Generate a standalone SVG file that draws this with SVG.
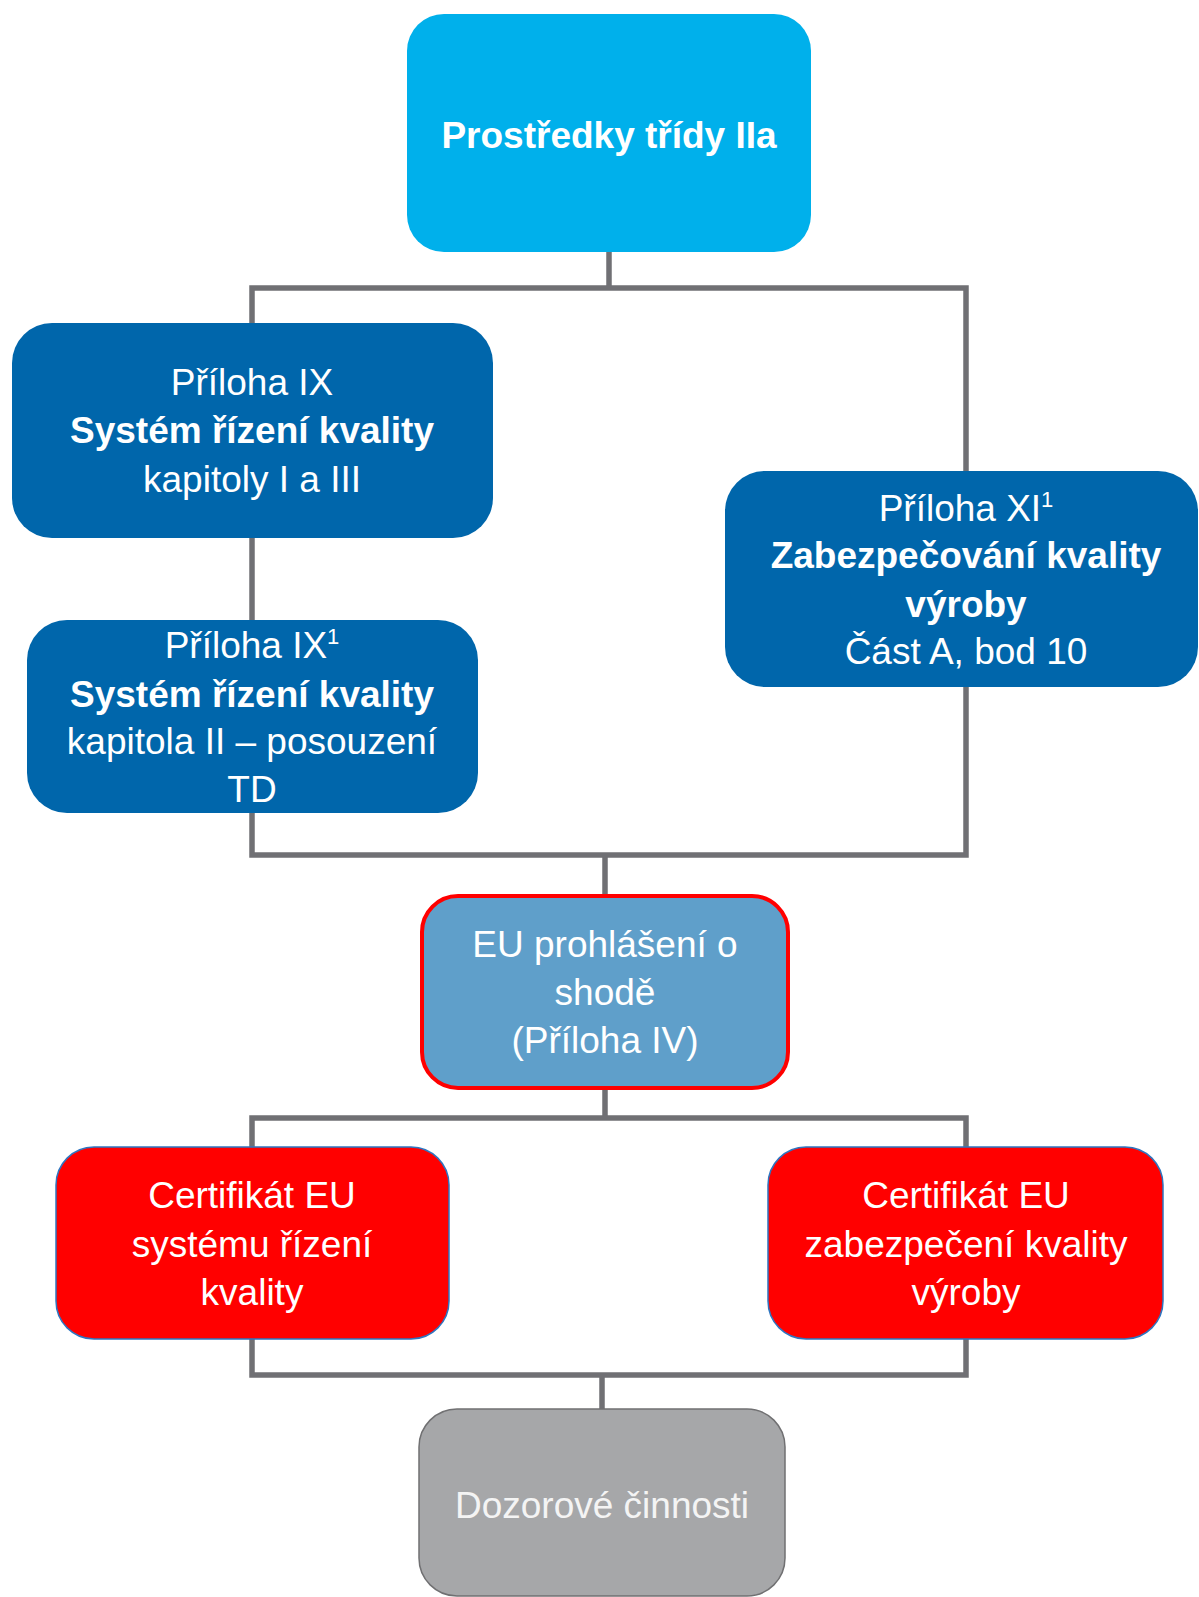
<svg xmlns="http://www.w3.org/2000/svg" width="1199" height="1597" viewBox="0 0 1199 1597">
  <style>
    .t { font-family: "Liberation Sans", Arial, sans-serif; font-size: 37px; fill: #ffffff; text-anchor: middle; }
    .b { font-weight: bold; }
    .sup { font-size: 22px; }
    .blue { fill: #0066AB; }
    .conn { fill: none; stroke: #707074; stroke-width: 5.5; stroke-linejoin: miter; }
  </style>

  <rect width="1199" height="1597" fill="#ffffff"/>

  <g id="connectors">
    <path class="conn" d="M609 252 V288 M252 323 V288 H966 V471"/>
    <path class="conn" d="M252 538 V620"/>
    <path class="conn" d="M252 813 V855 H966 V687 M605 855 V896"/>
    <path class="conn" d="M605 1088 V1118 M252 1147 V1118 H966 V1147"/>
    <path class="conn" d="M252 1339 V1375 H966 V1339 M602 1375 V1409"/>
  </g>

  <g id="node-class-iia">
    <rect x="407" y="14" width="404" height="238" rx="37" fill="#00B0EB"/>
    <text class="t b" x="609" y="148">Prostředky třídy IIa</text>
  </g>

  <g id="node-annex-ix">
    <rect class="blue" x="12" y="323" width="481" height="215" rx="40"/>
    <text class="t" x="252" y="395">Příloha IX</text>
    <text class="t b" x="252" y="443">Systém řízení kvality</text>
    <text class="t" x="252" y="492">kapitoly I a III</text>
  </g>

  <g id="node-annex-ix-2">
    <rect class="blue" x="27" y="620" width="451" height="193" rx="40"/>
    <text class="t" x="252" y="658">Příloha IX<tspan class="sup" dy="-14">1</tspan></text>
    <text class="t b" x="252" y="707">Systém řízení kvality</text>
    <text class="t" x="252" y="754">kapitola II – posouzení</text>
    <text class="t" x="252" y="802">TD</text>
  </g>

  <g id="node-annex-xi">
    <rect class="blue" x="725" y="471" width="473" height="216" rx="40"/>
    <text class="t" x="966" y="521">Příloha XI<tspan class="sup" dy="-14">1</tspan></text>
    <text class="t b" x="966" y="568">Zabezpečování kvality</text>
    <text class="t b" x="966" y="617">výroby</text>
    <text class="t" x="966" y="664">Část A, bod 10</text>
  </g>

  <g id="node-eu-declaration">
    <rect x="422" y="896" width="366" height="192" rx="36" fill="#5F9FCA" stroke="#FF0000" stroke-width="4"/>
    <text class="t" x="605" y="957">EU prohlášení o</text>
    <text class="t" x="605" y="1005">shodě</text>
    <text class="t" x="605" y="1053">(Příloha IV)</text>
  </g>

  <g id="node-cert-qms">
    <rect x="56" y="1147" width="393" height="192" rx="38" fill="#FF0000" stroke="#2E75C0" stroke-width="1.5"/>
    <text class="t" x="252" y="1208">Certifikát EU</text>
    <text class="t" x="252" y="1257">systému řízení</text>
    <text class="t" x="252" y="1305">kvality</text>
  </g>

  <g id="node-cert-production">
    <rect x="768" y="1147" width="395" height="192" rx="38" fill="#FF0000" stroke="#2E75C0" stroke-width="1.5"/>
    <text class="t" x="966" y="1208">Certifikát EU</text>
    <text class="t" x="966" y="1257">zabezpečení kvality</text>
    <text class="t" x="966" y="1305">výroby</text>
  </g>

  <g id="node-surveillance">
    <rect x="419" y="1409" width="366" height="187" rx="38" fill="#A6A7A9" stroke="#707072" stroke-width="1.5"/>
    <text class="t" x="602" y="1518" fill="#F4F4F4" style="fill:#F4F4F4">Dozorové činnosti</text>
  </g>
</svg>
